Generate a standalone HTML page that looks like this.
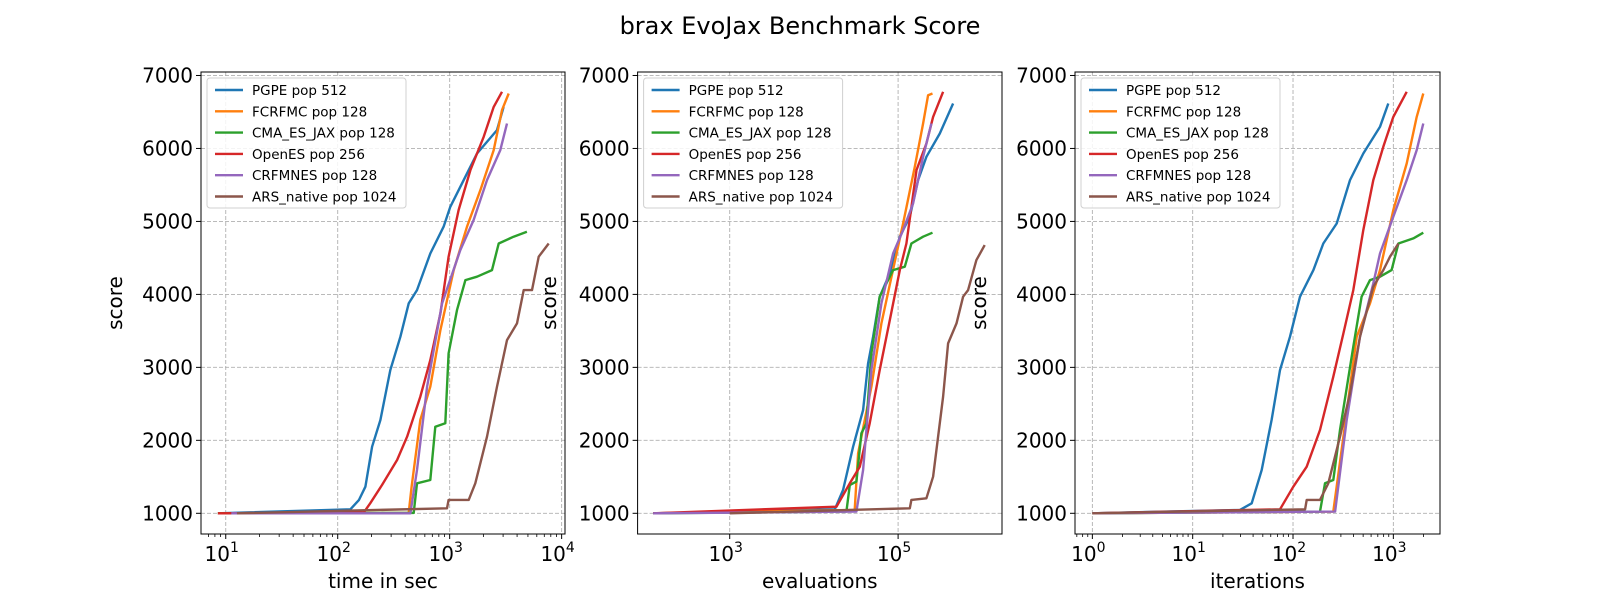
<!DOCTYPE html>
<html><head><meta charset="utf-8"><style>
body{margin:0;background:#fff;}
svg{display:block;font-family:"DejaVu Sans","Liberation Sans",sans-serif;}
</style></head><body>
<svg id="chart" width="1600" height="600" xmlns="http://www.w3.org/2000/svg">
<text x="800" y="34" text-anchor="middle" font-size="24">brax EvoJax Benchmark Score</text>
</svg>
<script>
// ---- data (x as log10 values, y as score) ----
const seriesNames = ["PGPE pop 512","FCRFMC pop 128","CMA_ES_JAX pop 128","OpenES pop 256","CRFMNES pop 128","ARS_native pop 1024"];
const seriesColors = ["#1f77b4","#ff7f0e","#2ca02c","#d62728","#9467bd","#8c564b"];
const yTicks = [1000,2000,3000,4000,5000,6000,7000];

// Panel 1: time in sec
const p1Blue = [[0.93,1000],[2.113,1055],[2.19,1183],[2.247,1365],[2.307,1913],[2.381,2278],[2.47,2963],[2.56,3420],[2.634,3877],[2.708,4059],[2.827,4561],[2.946,4927],[3.006,5200],[3.125,5566],[3.244,5931],[3.423,6251],[3.482,6570]];
const p1Orange = [[0.93,1000],[2.634,1005],[2.66,1365],[2.738,2278],[2.827,2735],[2.917,3511],[3.036,4333],[3.155,4927],[3.274,5429],[3.393,5977],[3.467,6525],[3.527,6753]];
const p1Green = [[0.93,1000],[2.679,1005],[2.708,1411],[2.827,1456],[2.872,2187],[2.961,2233],[2.99,3192],[3.065,3785],[3.14,4196],[3.244,4242],[3.378,4333],[3.438,4698],[3.571,4790],[3.69,4858]];
const p1Red = [[0.93,1000],[2.232,1010],[2.29,1137],[2.396,1388],[2.53,1730],[2.62,2050],[2.738,2598],[2.827,3100],[2.917,3740],[2.99,4516],[3.08,5155],[3.185,5703],[3.304,6160],[3.393,6570],[3.467,6776]];
const p1Purple = [[1.05,1000],[2.649,1000],[2.708,1594],[2.798,2735],[2.932,3877],[3.095,4607],[3.214,5018],[3.333,5566],[3.452,5977],[3.512,6342]];
const p1Brown = [[1.1,1000],[2.976,1068],[2.99,1183],[3.17,1183],[3.229,1411],[3.333,2050],[3.423,2735],[3.512,3374],[3.601,3603],[3.661,4059],[3.735,4059],[3.795,4516],[3.884,4698]];

// Panel 2: evaluations
const p2Blue = [[2.09,1000],[4.248,1055],[4.347,1320],[4.466,1913],[4.584,2415],[4.644,3055],[4.703,3420],[4.782,3968],[4.901,4288],[5.02,4790],[5.139,5064],[5.238,5566],[5.336,5886],[5.495,6205],[5.653,6616]];
const p2Orange = [[2.09,1000],[4.485,1046],[4.525,1822],[4.683,2735],[4.802,3603],[4.921,4242],[5.059,4972],[5.198,5749],[5.297,6342],[5.356,6730],[5.408,6753]];
const p2Green = [[2.09,1000],[4.386,1023],[4.426,1388],[4.505,1434],[4.564,2096],[4.624,2233],[4.683,3192],[4.782,3968],[4.861,4150],[4.941,4333],[5.079,4379],[5.158,4698],[5.297,4790],[5.408,4845]];
const p2Red = [[2.09,1000],[4.268,1091],[4.426,1411],[4.545,1639],[4.663,2233],[4.782,2963],[4.901,3648],[5.02,4333],[5.099,4698],[5.218,5703],[5.336,6068],[5.416,6433],[5.534,6776]];
const p2Purple = [[2.09,1000],[4.505,1023],[4.584,1594],[4.683,2963],[4.802,3877],[4.941,4561],[5.059,4881],[5.178,5247],[5.297,5886],[5.396,6342]];
const p2Brown = [[3.0,1000],[5.139,1068],[5.158,1183],[5.336,1205],[5.416,1502],[5.475,2050],[5.534,2598],[5.594,3329],[5.693,3603],[5.772,3968],[5.831,4059],[5.93,4470],[6.029,4676]];

// Panel 3: iterations
const p3Blue = [[0,1000],[1.472,1046],[1.588,1137],[1.688,1594],[1.787,2278],[1.87,2963],[1.97,3420],[2.07,3968],[2.203,4333],[2.302,4698],[2.435,4972],[2.568,5566],[2.701,5931],[2.867,6297],[2.95,6616]];
const p3Orange = [[0,1000],[2.402,1023],[2.502,2050],[2.635,3420],[2.767,3877],[2.867,4333],[3.0,5155],[3.133,5794],[3.233,6433],[3.299,6753]];
const p3Green = [[0,1000],[2.269,1023],[2.319,1411],[2.402,1456],[2.468,2142],[2.601,3283],[2.684,3968],[2.767,4196],[2.867,4242],[2.983,4333],[3.05,4698],[3.199,4767],[3.299,4845]];
const p3Red = [[0,1000],[1.87,1055],[2.003,1365],[2.136,1639],[2.269,2142],[2.402,2872],[2.502,3466],[2.601,4059],[2.701,4881],[2.8,5566],[2.9,6023],[3.0,6433],[3.133,6776]];
const p3Purple = [[0,1000],[2.419,1023],[2.535,2278],[2.668,3420],[2.8,4150],[2.867,4561],[3.0,5064],[3.133,5566],[3.233,5977],[3.299,6342]];
const p3Brown = [[0,1000],[2.12,1055],[2.136,1183],[2.269,1183],[2.352,1411],[2.468,2050],[2.568,2644],[2.668,3420],[2.8,4105],[2.9,4333],[2.967,4516],[3.05,4698]];

const p1MajorTicks = [1,2,3,4];
const p2MajorTicks = [3,5];
const p3MajorTicks = [0,1,2,3];
const xLabels = ["time in sec","evaluations","iterations"];

const NS = "http://www.w3.org/2000/svg";
const svg = document.getElementById("chart");
function mk(tag, attrs, parent){ const e=document.createElementNS(NS,tag); for(const k in attrs) e.setAttribute(k,attrs[k]); (parent||svg).appendChild(e); return e; }

const panels = [
  {x0:201,x1:565,lmin:0.779,lmax:4.03,major:p1MajorTicks,minor:true,series:[p1Blue,p1Orange,p1Green,p1Red,p1Purple,p1Brown],ylab:118},
  {x0:637.6,x1:1002,lmin:1.906,lmax:6.234,major:p2MajorTicks,minor:false,series:[p2Blue,p2Orange,p2Green,p2Red,p2Purple,p2Brown],ylab:552},
  {x0:1075,x1:1440,lmin:-0.173,lmax:3.465,major:p3MajorTicks,minor:true,series:[p3Blue,p3Orange,p3Green,p3Red,p3Purple,p3Brown],ylab:982}
];
const Y0=72, Y1=534;
function yScale(v){ return 513.3 - (v-1000)*0.07297; }

panels.forEach((p,pi)=>{
  const g = mk("g",{});
  
  
  const xs = l => p.x0 + (l-p.lmin)/(p.lmax-p.lmin)*(p.x1-p.x0);
  yTicks.forEach(t=>{
    const y=yScale(t);
    const gl=mk("line",{x1:p.x0,x2:p.x1,y1:y,y2:y,stroke:"#b0b0b0","stroke-dasharray":"4,2","stroke-width":0.9},g);
    
    
    mk("line",{x1:p.x0-5,x2:p.x0,y1:y,y2:y,stroke:"#000","stroke-width":1},g);
    const tl=mk("text",{x:p.x0-8,y:y+7,"text-anchor":"end","font-size":20},g);
    tl.textContent=t;
    
    
  });
  p.major.forEach(m=>{
    const x=xs(m);
    const gl=mk("line",{x1:x,x2:x,y1:Y0,y2:Y1,stroke:"#b0b0b0","stroke-dasharray":"4,2","stroke-width":0.9},g);
    
    
    mk("line",{x1:x,x2:x,y1:Y1,y2:Y1+5,stroke:"#000","stroke-width":1},g);
    const tl=mk("text",{x:x-4,y:Y1+27,"text-anchor":"middle","font-size":20},g);
    
    
    tl.appendChild(document.createTextNode("10"));
    const sup=mk("tspan",{"font-size":14,dy:-9},tl); sup.textContent=String(m);
  });
  if(p.minor){
    for(let d=Math.floor(p.lmin); d<=Math.ceil(p.lmax); d++){
      for(let k=2;k<=9;k++){
        const l=d+Math.log10(k);
        if(l<p.lmin||l>p.lmax) continue;
        const x=xs(l);
        mk("line",{x1:x,x2:x,y1:Y1,y2:Y1+3,stroke:"#000","stroke-width":0.8},g);
      }
    }
  }
  p.series.forEach((s,si)=>{
    const pts=s.map(d=>xs(d[0]).toFixed(1)+","+yScale(d[1]).toFixed(1)).join(" ");
    const pl=mk("polyline",{points:pts,fill:"none",stroke:seriesColors[si],"stroke-width":2.4,"stroke-linejoin":"round"},g);
    
    
  });
  const fr=mk("rect",{x:p.x0,y:Y0,width:p.x1-p.x0,height:Y1-Y0,fill:"none",stroke:"#000","stroke-width":1},g);
  
  
  const xl=mk("text",{x:(p.x0+p.x1)/2,y:588,"text-anchor":"middle","font-size":20},g);
  xl.textContent=xLabels[pi];
  
  
  const yl=mk("text",{x:0,y:0,"text-anchor":"middle","font-size":20,transform:"translate("+(p.ylab+4)+",303) rotate(-90)"},g);
  yl.textContent="score";
  
  
  const lx=p.x0+6, ly=78;
  const lg=mk("g",{},g);
  
  
  mk("rect",{x:lx,y:ly,width:199,height:130,rx:3,fill:"#fff","fill-opacity":0.85,stroke:"#d0d0d0"},lg);
  seriesNames.forEach((n,si)=>{
    const yy=ly+12+si*21.3;
    mk("line",{x1:lx+8,x2:lx+36,y1:yy,y2:yy,stroke:seriesColors[si],"stroke-width":2.4},lg);
    const t=mk("text",{x:lx+45,y:yy+5,"font-size":13.5},lg);
    t.textContent=n;
    
    
  });
});
</script>
</body></html>
